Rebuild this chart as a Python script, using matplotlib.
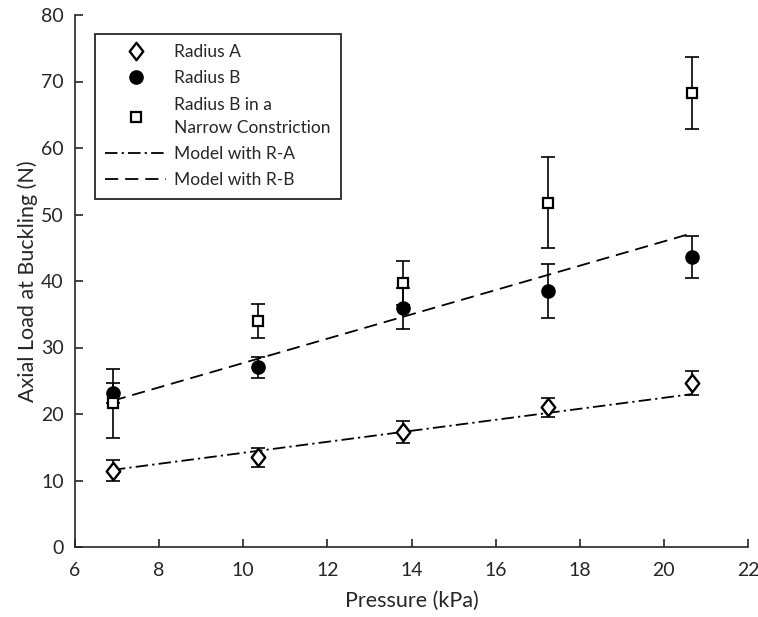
import matplotlib
matplotlib.use("Agg")
import matplotlib.pyplot as plt
from matplotlib.path import Path

plt.rcParams['font.family'] = ['Lato', 'DejaVu Sans']
plt.rcParams['lines.scale_dashes'] = False

# ---- data ----
pressure = [6.9, 10.34, 13.79, 17.24, 20.68]

radius_a = [11.5, 13.5, 17.3, 21.0, 24.7]
radius_a_err = [1.6, 1.4, 1.65, 1.4, 1.8]

radius_b = [23.1, 27.0, 35.9, 38.5, 43.6]
radius_b_err = [1.5, 1.6, 3.1, 4.0, 3.2]

narrow_b = [21.6, 34.0, 39.7, 51.8, 68.3]
narrow_b_err = [5.2, 2.5, 3.3, 6.8, 5.45]

model_x = [6.9, 20.68]
model_ra = [11.6, 23.0]
model_rb = [22.0, 47.2]

x_ticks = [6, 8, 10, 12, 14, 16, 18, 20, 22]
y_ticks = [0, 10, 20, 30, 40, 50, 60, 70, 80]

TXT = '#262626'

# ---- figure ----
fig = plt.figure(figsize=(7.58, 6.17), dpi=100)
ax = fig.add_axes([75/758, 1-547/617, (748-75)/758, (547-15)/617])

diamond = Path([(0, 1), (0.78, 0), (0, -1), (-0.78, 0), (0, 1)],
               [Path.MOVETO, Path.LINETO, Path.LINETO, Path.LINETO, Path.CLOSEPOLY])

eb_kw = dict(fmt='none', ecolor='black', elinewidth=1.2, capsize=5.2, capthick=1.2, zorder=2)
ax.errorbar(pressure, radius_a, yerr=radius_a_err, **eb_kw)
ax.errorbar(pressure, radius_b, yerr=radius_b_err, **eb_kw)
ax.errorbar(pressure, narrow_b, yerr=narrow_b_err, **eb_kw)

la, = ax.plot(model_x, model_ra, color='black', lw=1.3, zorder=1,
              dashes=(9, 3, 1.6, 3), label='Model with R-A')
lb, = ax.plot(model_x, model_rb, color='black', lw=1.3, zorder=1,
              dashes=(9.5, 5), label='Model with R-B')

ha, = ax.plot(pressure, radius_a, linestyle='none', marker=diamond, markersize=12.5,
              markerfacecolor='white', markeredgecolor='black', markeredgewidth=1.7,
              zorder=3, label='Radius A')
hb, = ax.plot(pressure, radius_b, linestyle='none', marker='o', markersize=9.5,
              markerfacecolor='black', markeredgecolor='black', zorder=3, label='Radius B')
hc, = ax.plot(pressure, narrow_b, linestyle='none', marker='s', markersize=7.5,
              markerfacecolor='white', markeredgecolor='black', markeredgewidth=1.6,
              zorder=4, label='Radius B in a\nNarrow Constriction')

ax.set_xlim(6, 22)
ax.set_ylim(0, 80)
ax.set_xticks(x_ticks)
ax.set_yticks(y_ticks)
ax.tick_params(direction='in', length=5.5, width=1.2, labelsize=14, colors=TXT)
ax.tick_params(axis='x', pad=11)
ax.tick_params(axis='y', pad=8)
for s in ['top', 'right']:
    ax.spines[s].set_visible(False)
for s in ['left', 'bottom']:
    ax.spines[s].set_linewidth(1.2)
    ax.spines[s].set_color(TXT)

ax.set_xlabel('Pressure (kPa)', fontsize=15.5, color=TXT, labelpad=8)
ax.set_ylabel('Axial Load at Buckling (N)', fontsize=15.5, color=TXT, labelpad=2)

leg = ax.legend(handles=[ha, hb, hc, la, lb], loc='upper left',
                bbox_to_anchor=((95-75)/673, (547-34)/532), borderaxespad=0,
                fontsize=12.5, frameon=True, fancybox=False, framealpha=1,
                edgecolor=TXT, handlelength=3.5, handletextpad=0.45,
                labelspacing=0.58, borderpad=0.6)
leg.get_frame().set_linewidth(1.3)
for t in leg.get_texts():
    t.set_color(TXT)
    t.set_linespacing(1.6)

fig.savefig('out.png', dpi=100)
